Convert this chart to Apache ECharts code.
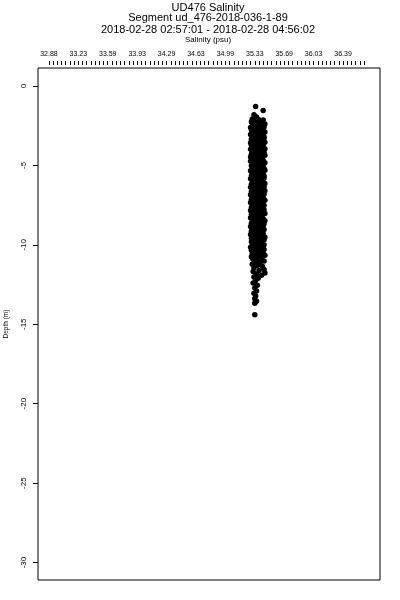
<!DOCTYPE html>
<html>
<head>
<meta charset="utf-8">
<script src="https://cdn.jsdelivr.net/npm/echarts@6/dist/echarts.min.js"></script>
<style>html,body{margin:0;padding:0;background:#fff}#c{width:400px;height:600px}</style>
</head>
<body>
<div id="c"></div>
<script>
var titleLines = ["UD476 Salinity", "Segment ud_476-2018-036-1-89", "2018-02-28 02:57:01 - 2018-02-28 04:56:02"];
var xName = "Salinity (psu)";
var yName = "Depth (m)";
var xTickValues = [32.88, 33.23, 33.58, 33.93, 34.28, 34.63, 34.98, 35.33, 35.68, 36.03, 36.38];
var xTickLabels = ["32.88", "33.23", "33.59", "33.93", "34.29", "34.63", "34.99", "35.33", "35.69", "36.03", "36.39"];
var yTickValues = [-30, -25, -20, -15, -10, -5, 0];
var yTickLabels = ["-30", "-25", "-20", "-15", "-10", "-5", "0"];

// salinity (psu), depth (m)
var pointsTop = [[35.34,-1.30],[35.43,-1.55],[35.32,-1.82],[35.35,-1.95],[35.30,-2.08],[35.38,-2.12],[35.43,-2.15]];
var pointsUpper = [
[35.29,-2.25],[35.33,-2.21],[35.38,-2.30],[35.42,-2.28],[35.45,-2.40],[35.31,-2.45],[35.36,-2.52],[35.40,-2.48],[35.28,-2.62],[35.34,-2.66],[35.44,-2.58],[35.39,-2.69],[35.30,-2.35],[35.43,-2.66],
[35.29,-2.78],[35.35,-2.74],[35.41,-2.81],[35.45,-2.90],[35.32,-2.95],[35.38,-2.99],[35.28,-3.05],[35.43,-3.08],[35.36,-3.12],[35.30,-3.18],[35.40,-3.15],[35.33,-2.86],[35.44,-3.19],[35.37,-2.88],
[35.31,-3.24],[35.38,-3.27],[35.44,-3.30],[35.29,-3.36],[35.35,-3.40],[35.41,-3.38],[35.33,-3.50],[35.39,-3.47],[35.45,-3.55],[35.28,-3.58],[35.36,-3.62],[35.42,-3.66],[35.30,-3.69],[35.34,-3.33],
[35.29,-3.74],[35.37,-3.78],[35.43,-3.75],[35.32,-3.85],[35.40,-3.88],[35.45,-3.95],[35.28,-3.98],[35.35,-4.02],[35.41,-4.05],[35.31,-4.12],[35.38,-4.15],[35.44,-4.18],[35.34,-3.92],[35.30,-4.19],
[35.36,-4.23],[35.42,-4.26],[35.29,-4.30],[35.33,-4.37],[35.39,-4.40],[35.45,-4.36],[35.28,-4.48],[35.35,-4.52],[35.41,-4.55],[35.31,-4.60],[35.37,-4.63],[35.43,-4.67],[35.30,-4.69],[35.40,-4.45],
[35.28,-4.74],[35.34,-4.77],[35.40,-4.79],[35.45,-4.83],[35.31,-4.88],[35.37,-4.92],[35.43,-4.96],[35.29,-5.02],[35.35,-5.05],[35.41,-5.08],[35.33,-5.14],[35.38,-5.17],[35.44,-5.19],[35.30,-5.19],
[35.32,-5.24],[35.39,-5.26],[35.45,-5.30],[35.28,-5.34],[35.35,-5.38],[35.42,-5.41],[35.30,-5.47],[35.37,-5.50],[35.43,-5.53],[35.33,-5.58],[35.40,-5.61],[35.29,-5.65],[35.36,-5.68],[35.44,-5.67],
[35.31,-5.73],[35.38,-5.76],[35.44,-5.79],[35.28,-5.84],[35.34,-5.87],[35.41,-5.90],[35.30,-5.96],[35.36,-5.99],[35.43,-6.02],[35.32,-6.08],[35.39,-6.11],[35.45,-6.14],[35.29,-6.18],[35.35,-6.19]
];
var pointsMiddle = [
[35.42,-6.23],[35.30,-6.26],[35.37,-6.30],[35.44,-6.34],[35.28,-6.38],[35.33,-6.42],[35.40,-6.45],[35.35,-6.50],[35.31,-6.54],[35.38,-6.57],[35.45,-6.60],[35.29,-6.64],[35.36,-6.68],[35.42,-6.66],
[35.31,-6.73],[35.39,-6.76],[35.44,-6.80],[35.28,-6.85],[35.34,-6.88],[35.41,-6.91],[35.30,-6.97],[35.37,-7.00],[35.43,-7.03],[35.33,-7.08],[35.40,-7.12],[35.29,-7.15],[35.36,-7.18],[35.45,-7.19],
[35.32,-7.23],[35.38,-7.26],[35.43,-7.29],[35.28,-7.34],[35.35,-7.38],[35.41,-7.41],[35.30,-7.46],[35.37,-7.50],[35.44,-7.53],[35.33,-7.58],[35.39,-7.62],[35.29,-7.65],[35.36,-7.68],[35.42,-7.69],
[35.30,-7.73],[35.37,-7.76],[35.44,-7.80],[35.28,-7.84],[35.34,-7.88],[35.40,-7.91],[35.32,-7.96],[35.38,-7.99],[35.45,-8.03],[35.29,-8.07],[35.35,-8.11],[35.42,-8.14],[35.31,-8.18],[35.39,-8.19],
[35.33,-8.23],[35.41,-8.26],[35.28,-8.30],[35.36,-8.35],[35.43,-8.38],[35.30,-8.42],[35.38,-8.46],[35.45,-8.49],[35.32,-8.54],[35.35,-8.58],[35.40,-8.61],[35.29,-8.65],[35.37,-8.68],[35.44,-8.67],
[35.31,-8.73],[35.38,-8.76],[35.43,-8.80],[35.28,-8.85],[35.34,-8.88],[35.41,-8.92],[35.30,-8.97],[35.36,-9.00],[35.44,-9.03],[35.32,-9.08],[35.39,-9.12],[35.29,-9.15],[35.35,-9.18],[35.42,-9.19]
];
var pointsLower = [
[35.30,-9.23],[35.37,-9.26],[35.43,-9.30],[35.28,-9.35],[35.34,-9.38],[35.40,-9.42],[35.32,-9.47],[35.38,-9.50],[35.45,-9.53],[35.29,-9.58],[35.35,-9.62],[35.41,-9.65],[35.31,-9.69],[35.44,-9.68],
[35.33,-9.73],[35.39,-9.76],[35.29,-9.80],[35.36,-9.85],[35.42,-9.88],[35.31,-9.92],[35.38,-9.96],[35.44,-10.00],[35.30,-10.05],[35.35,-10.08],[35.41,-10.12],[35.28,-10.16],[35.37,-10.19],[35.43,-10.18],
[35.31,-10.23],[35.38,-10.26],[35.44,-10.30],[35.29,-10.35],[35.34,-10.38],[35.40,-10.42],[35.32,-10.47],[35.37,-10.50],[35.43,-10.53],[35.30,-10.58],[35.36,-10.62],[35.41,-10.65],[35.33,-10.69],[35.45,-10.66],
[35.29,-10.75],[35.35,-10.80],[35.41,-10.84],[35.31,-10.92],[35.38,-10.96],[35.44,-11.02],[35.33,-11.10],[35.39,-11.15],[35.30,-11.22],[35.36,-11.30],[35.42,-11.35],[35.32,-11.45],
[35.44,-11.55],[35.38,-11.62],[35.31,-11.68],[35.45,-11.78],[35.35,-11.85],[35.41,-11.92],[35.32,-12.02],[35.37,-12.10]
];
var pointsTail = [[35.34,-12.25],[35.31,-12.40],[35.36,-12.55],[35.33,-12.72],[35.35,-12.90],[35.32,-13.05],[35.34,-13.22],[35.33,-13.40],[35.35,-13.55],[35.33,-13.68],[35.33,-14.40]];

var allPoints = [].concat(pointsTop, pointsUpper, pointsMiddle, pointsLower, pointsTail);

// minor ticks every 0.05 between labelled ticks
var xMinorTicks = [];
for (var i = 0; i < xTickValues.length; i++) {
  for (var k = 0; k < 7; k++) {
    var v = +(xTickValues[i] + k * 0.05).toFixed(2);
    if (v <= 36.64) xMinorTicks.push(v);
  }
}

var FONT = "'Liberation Sans', Arial, Helvetica, sans-serif";
var chart = echarts.init(document.getElementById('c'), null, {renderer: 'canvas'});
var titleTops = [1, 11, 23];
var titles = titleLines.map(function (t, i) {
  return {text: t, left: 208, top: titleTops[i], textAlign: 'center', padding: 0,
    textStyle: {fontFamily: FONT, fontSize: 11, fontWeight: 'normal', color: '#000', lineHeight: 13}};
});
titles.push({text: xName, left: 208, top: 35, textAlign: 'center', padding: 0,
  textStyle: {fontFamily: FONT, fontSize: 8, fontWeight: 'normal', color: '#000', lineHeight: 9}});

chart.setOption({
  animation: false,
  backgroundColor: '#fff',
  title: titles,
  grid: {left: 38, right: 20, top: 68, bottom: 20, containLabel: false, outerBoundsMode: 'none',
    show: true, borderColor: '#000', borderWidth: 1, backgroundColor: 'transparent'},
  xAxis: {
    type: 'value', position: 'top', min: 32.75, max: 36.82, offset: 3,
    axisLine: {show: false, onZero: false},
    splitLine: {show: false},
    axisTick: {show: true, length: 4, inside: false, customValues: xMinorTicks, lineStyle: {color: '#000', width: 1}},
    axisLabel: {show: true, margin: 7, customValues: xTickValues, fontFamily: FONT, fontSize: 7, color: '#000',
      formatter: function (v) { var j = xTickValues.findIndex(function (t) { return Math.abs(t - v) < 1e-6; }); return j >= 0 ? xTickLabels[j] : ''; }}
  },
  yAxis: {
    type: 'value', min: -31.1, max: 1.13,
    name: yName, nameLocation: 'middle', nameGap: 28,
    nameTextStyle: {fontFamily: FONT, fontSize: 6.5, color: '#000'},
    axisLine: {show: false, onZero: false},
    splitLine: {show: false},
    axisTick: {show: true, length: 5, inside: false, customValues: yTickValues, lineStyle: {color: '#000', width: 1}},
    axisLabel: {show: true, rotate: 90, margin: 10, customValues: yTickValues, fontFamily: FONT, fontSize: 8, color: '#000',
      formatter: function (v) { var j = yTickValues.indexOf(v); return j >= 0 ? yTickLabels[j] : ''; }}
  },
  series: [{
    type: 'scatter', data: allPoints, symbol: 'circle', symbolSize: 5.5,
    itemStyle: {color: '#000', opacity: 1}, large: false, silent: true
  }]
});
</script>
</body>
</html>
